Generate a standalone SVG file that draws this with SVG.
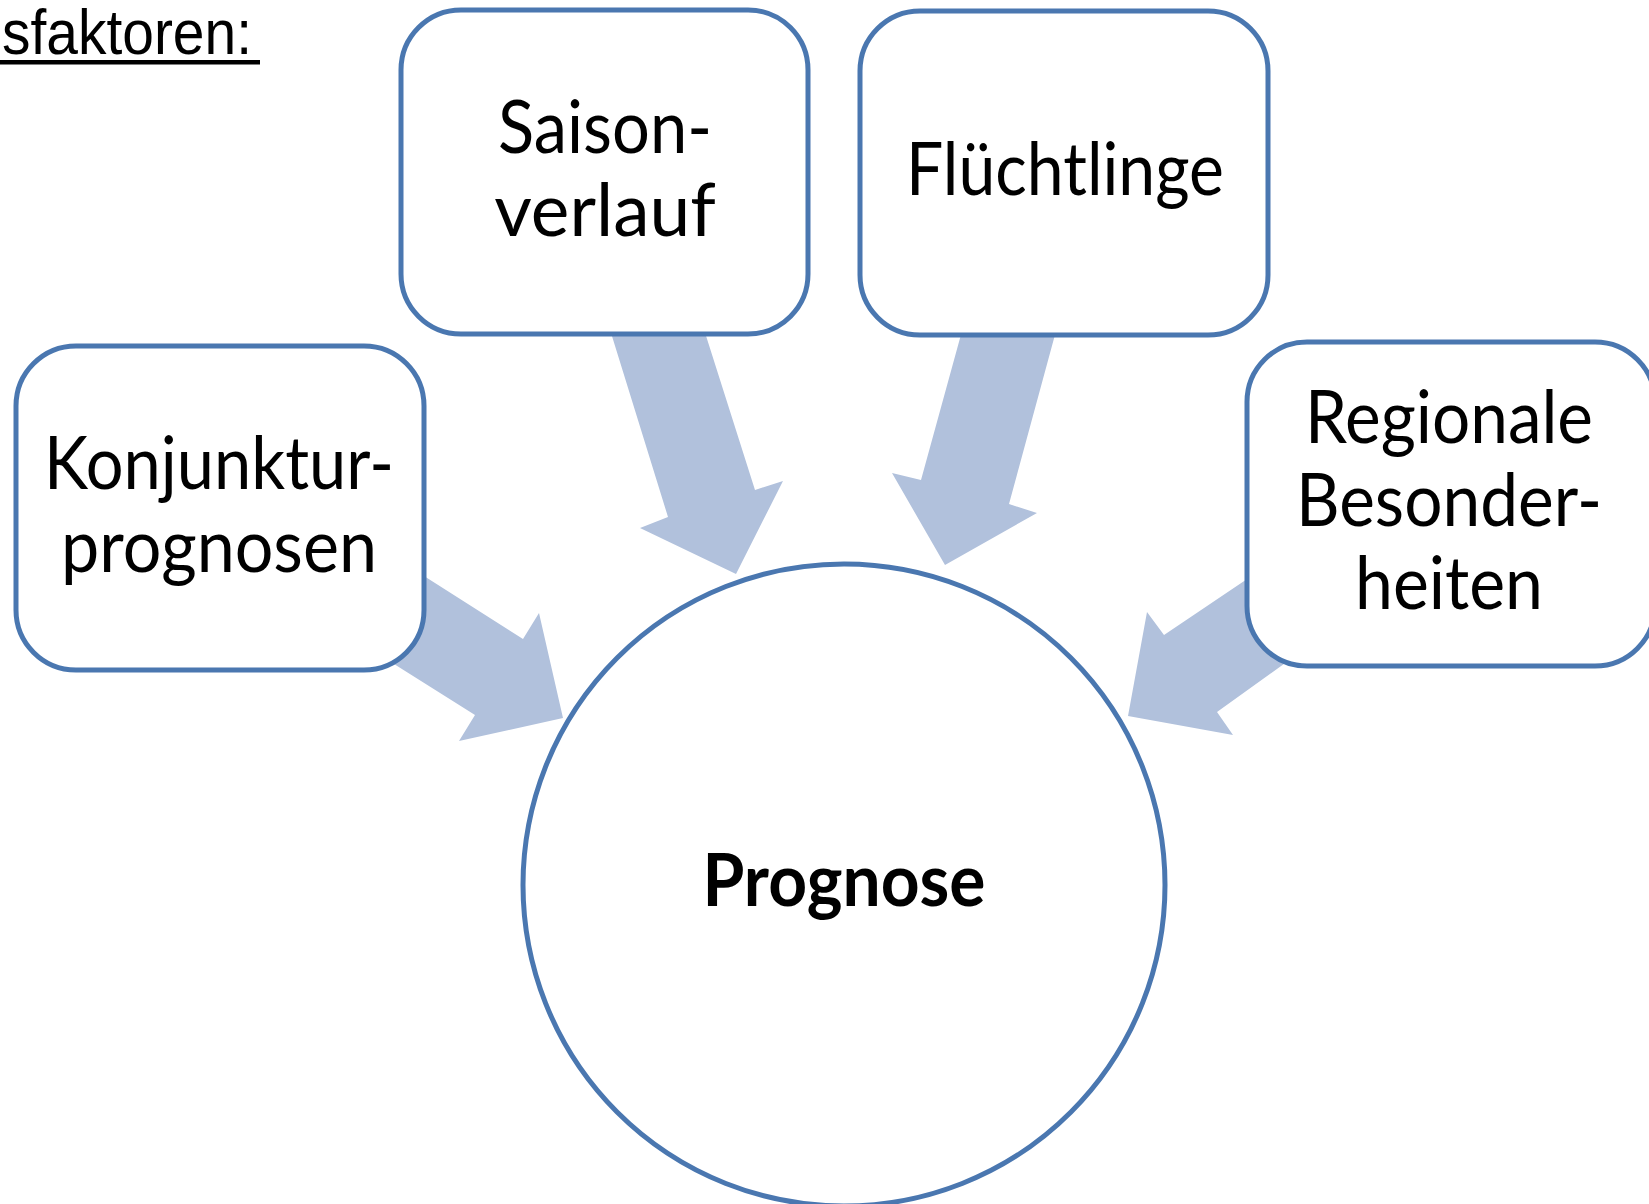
<svg xmlns="http://www.w3.org/2000/svg" width="1649" height="1204" viewBox="0 0 1649 1204">
  <style>
    .box { fill: #ffffff; stroke: #4a77b0; stroke-width: 5; }
    .arrow { fill: #b1c1dc; stroke: none; }
    .lbl { font-family: "Lato", "Liberation Sans", sans-serif; font-size: 73px; fill: #000000; text-anchor: middle; }
    .bold { font-weight: bold; }
    .title { font-family: "Liberation Sans", Arial, sans-serif; font-size: 63px; fill: #000000; }
  </style>
  <rect x="0" y="0" width="1649" height="1204" fill="#ffffff"/>
  <g id="title">
    <text class="title" x="2" y="54" textLength="250" lengthAdjust="spacingAndGlyphs">sfaktoren:</text>
    <rect x="0" y="60" width="260" height="4.5" fill="#000000"/>
  </g>
  <g id="connectors">
    <polygon class="arrow" points="607,320 701,320 755,490 783,481 736,574 640,528 668,517"/>
    <polygon class="arrow" points="965,320 1059,320 1009,504 1037,513 945,565 892,473 921,480"/>
    <polygon class="arrow" points="380,548 523,639 539,613 563,718 459,741 475,715 340,630"/>
    <polygon class="arrow" points="1290,550 1164,635 1147,612 1128,716 1233,735 1217,712 1320,638"/>
  </g>
  <g id="node-saison">
    <rect class="box" x="401" y="10" width="407" height="324" rx="60" ry="60"/>
    <text class="lbl" x="605" y="153" textLength="214" lengthAdjust="spacingAndGlyphs">Saison-</text>
    <text class="lbl" x="605" y="236">verlauf</text>
  </g>
  <g id="node-fluechtlinge">
    <rect class="box" x="860" y="11" width="408" height="324" rx="60" ry="60"/>
    <text class="lbl" x="1065" y="195" textLength="318" lengthAdjust="spacingAndGlyphs">Flüchtlinge</text>
  </g>
  <g id="node-konjunktur">
    <rect class="box" x="16" y="346" width="408" height="324" rx="60" ry="60"/>
    <text class="lbl" x="219" y="489" textLength="350" lengthAdjust="spacingAndGlyphs">Konjunktur-</text>
    <text class="lbl" x="219" y="572" textLength="316" lengthAdjust="spacingAndGlyphs">prognosen</text>
  </g>
  <g id="node-regionale">
    <rect class="box" x="1247" y="342" width="408" height="324" rx="60" ry="60"/>
    <text class="lbl" x="1449" y="443" textLength="288" lengthAdjust="spacingAndGlyphs">Regionale</text>
    <text class="lbl" x="1449" y="526" textLength="306" lengthAdjust="spacingAndGlyphs">Besonder-</text>
    <text class="lbl" x="1449" y="609" textLength="188" lengthAdjust="spacingAndGlyphs">heiten</text>
  </g>
  <g id="node-prognose">
    <circle class="box" cx="844" cy="885" r="321"/>
    <text class="lbl bold" x="844" y="906" textLength="283" lengthAdjust="spacingAndGlyphs">Prognose</text>
  </g>
</svg>
